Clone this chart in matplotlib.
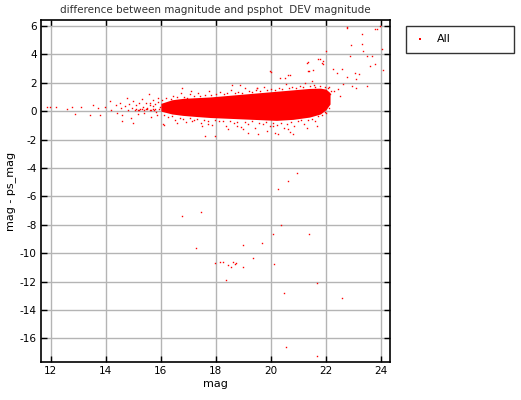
import numpy as np
import matplotlib
matplotlib.use("Agg")
import matplotlib.pyplot as plt

# dense core of the cloud: envelope
core_mag = [16.0, 16.4, 16.8, 17.3, 17.8, 18.4, 19.0, 19.6, 20.2, 20.8, 21.4, 21.8, 22.0, 22.15]
core_hi = [0.55, 0.8, 0.9, 0.95, 1.0, 1.1, 1.2, 1.3, 1.4, 1.5, 1.6, 1.62, 1.55, 1.3]
core_lo = [0.0, -0.2, -0.3, -0.38, -0.45, -0.5, -0.55, -0.6, -0.65, -0.58, -0.42, -0.2, 0.1, 0.5]

# bright faint tail on the left
tail_mag = [11.87, 11.96, 12.2, 12.57, 12.75, 12.87, 13.1, 13.42, 13.54, 13.72, 13.78, 13.96,
            14.15, 14.2, 14.35, 14.4, 14.5, 14.55, 14.6, 14.7, 14.75, 14.8, 14.85, 14.9, 14.95,
            15.0, 15.05, 15.1, 15.15, 15.2, 15.25, 15.3, 15.35, 15.4, 15.45, 15.5, 15.55, 15.6,
            15.65, 15.7, 15.75, 15.8, 15.85, 15.9, 15.95, 14.99, 14.6,
            15.1, 15.2, 15.3, 15.4, 15.5, 15.6, 15.7, 15.8, 15.15, 15.45, 15.65,
            15.72, 15.88, 15.93, 15.62, 15.82]
tail_diff = [0.3, 0.3, 0.3, 0.12, 0.3, -0.23, 0.3, -0.3, 0.4, 0.23, -0.3, 0.3,
             0.7, 0.1, 0.45, -0.15, 0.6, 0.2, -0.3, 0.35, 0.9, 0.05, 0.5, -0.5, 0.25,
             0.7, 0.1, 0.4, -0.2, 0.55, 0.15, 0.85, 0.3, -0.1, 0.6, 0.2, 1.2, 0.4,
             -0.4, 0.75, 0.1, 0.5, -0.25, 0.95, 0.3, -0.82, -0.7,
             0.12, 0.1, 0.13, 0.11, 0.12, 0.1, 0.13, 0.12, 0.11, 0.13, 0.1,
             0.35, 0.62, 0.18, 0.55, -0.08]

# ragged edge just above the core
upper_mag = [16.05, 16.2, 16.35, 16.45, 16.6, 16.72, 16.85, 16.95, 17.05, 17.22, 17.35, 17.42,
             17.6, 17.75, 17.83, 18.02, 18.15, 18.28, 18.42, 18.55, 18.68, 18.8, 18.95, 19.05,
             19.2, 19.33, 19.45, 19.62, 19.75, 19.85, 20.0, 20.15, 20.28, 20.4, 20.55, 20.65,
             20.78, 20.92, 21.05, 21.18, 21.25, 21.42, 21.55, 21.62, 21.8, 21.95, 22.08, 22.2]
upper_diff = [0.75, 0.95, 0.85, 1.1, 0.98, 1.25, 1.02, 0.95, 1.18, 1.05, 1.3, 1.08,
              1.15, 1.42, 1.12, 1.22, 1.35, 1.18, 1.28, 1.5, 1.3, 1.38, 1.27, 1.62,
              1.4, 1.35, 1.48, 1.42, 1.7, 1.5, 1.55, 1.48, 1.62, 1.58, 1.88, 1.62,
              1.7, 1.65, 1.78, 1.72, 1.95, 1.75, 1.82, 1.7, 1.78, 1.72, 1.6, 1.45]

# ragged edge just below the core
lower_mag = [16.1, 16.25, 16.4, 16.52, 16.68, 16.8, 16.93, 17.05, 17.2, 17.33, 17.45, 17.58,
             17.7, 17.85, 17.98, 18.12, 18.25, 18.38, 18.52, 18.65, 18.78, 18.9, 19.05, 19.18,
             19.3, 19.42, 19.58, 19.7, 19.82, 19.95, 20.08, 20.22, 20.35, 20.48, 20.6, 20.72,
             20.85, 20.98, 21.1, 21.22, 21.35, 21.48, 21.6, 21.72, 21.85, 21.98, 22.1]
lower_diff = [-0.25, -0.42, -0.35, -0.6, -0.45, -0.52, -0.75, -0.5, -0.62, -0.55, -0.85, -0.6,
              -0.68, -0.95, -0.62, -0.72, -0.66, -1.05, -0.7, -0.8, -0.75, -1.15, -0.78, -0.88,
              -0.72, -1.2, -0.82, -0.92, -0.78, -1.08, -0.85, -0.95, -0.8, -1.22, -0.88, -0.78,
              -1.05, -0.72, -0.65, -0.9, -0.6, -0.52, -0.7, -0.35, -0.3, -0.05, 0.25]

# sparse points further from the core
sparse_mag = [16.75, 17.1, 18.57, 18.87, 19.48, 16.08, 16.6, 17.12, 17.48, 17.7, 17.96, 18.45,
              18.75, 18.99, 19.17, 19.54, 19.84, 20.08, 20.27, 20.63, 20.81, 21.3, 21.66,
              22.02, 17.6, 16.1, 20.15, 20.7]
sparse_diff = [1.6, 1.4, 1.81, 1.81, 1.64, -0.94, -0.8, -0.7, -1.06, -0.94, -1.76, -1.29,
               -1.06, -1.29, -1.53, -1.64, -1.41, -1.06, -1.64, -1.29, -1.64, -1.17, -1.06,
               -0.12, -1.76, -0.99, -1.53, -1.5]

# the faint plume rising on the right
plume_mag = [19.96, 20.33, 20.63, 21.3, 21.35, 21.5, 21.78, 21.9, 22.75, 23.3, 23.84, 23.96,
             22.93, 23.3, 23.36, 24.03, 23.66, 23.5, 22.87, 22.02, 21.9, 21.36, 21.54, 22.27,
             22.4, 22.6, 22.75, 23.05, 23.2, 23.1, 23.6, 23.8, 23.48, 22.63, 22.45, 22.3,
             22.15, 22.5, 22.1, 22.95, 23.1, 22.78, 23.78, 24.08, 21.72, 21.85, 21.4, 20.69,
             20.02, 20.5, 19.48]
plume_diff = [2.82, 2.35, 2.58, 3.4, 2.8, 2.1, 3.64, 3.3, 5.89, 5.42, 5.82, 6.0,
              4.65, 4.7, 4.25, 4.37, 3.9, 3.9, 3.9, 4.25, 3.54, 3.43, 2.89, 2.96,
              2.7, 2.96, 2.37, 2.72, 2.62, 2.25, 3.19, 3.3, 1.78, 1.9, 1.55, 1.45,
              1.2, 1.1, 1.7, 1.8, 1.6, 5.92, 5.82, 2.93, 3.64, 3.4, 2.8, 2.58,
              2.77, 2.3, 1.64]

# far outliers below
low_mag = [16.75, 17.45, 17.26, 19.0, 19.36, 17.96, 18.14, 18.26, 18.45, 18.62, 18.68, 18.74,
           19.0, 18.56, 18.35, 20.35, 20.06, 19.66, 21.39, 20.12, 21.68, 20.48, 22.59, 20.55,
           21.68, 20.96, 20.63, 20.27]
low_diff = [-7.39, -7.09, -9.67, -9.44, -10.33, -10.73, -10.63, -10.63, -10.85, -10.63, -10.75,
            -10.7, -10.99, -10.99, -11.9, -8.05, -8.62, -9.27, -8.62, -10.75, -12.11, -12.8,
            -13.15, -16.64, -17.25, -4.39, -4.95, -5.45]

plt.rcParams['axes.unicode_minus'] = False
plt.rcParams['font.family'] = 'DejaVu Sans'

fig = plt.figure(figsize=(5.21, 4.0), dpi=100)
ax = fig.add_axes([41 / 521, 38 / 400, 349 / 521, 342 / 400])

red = '#ff0000'
ax.fill_between(core_mag, core_lo, core_hi, color=red, lw=0, zorder=2)
mags = tail_mag + upper_mag + lower_mag + sparse_mag + plume_mag + low_mag
diffs = tail_diff + upper_diff + lower_diff + sparse_diff + plume_diff + low_diff
ax.plot(mags, diffs, 's', color=red, ms=1.0, mew=0, ls='none', zorder=3, label='All')

ax.set_xlim(11.64, 24.33)
ax.set_ylim(-17.67, 6.42)
ax.set_xticks(np.arange(12, 25, 2))
ax.set_yticks(np.arange(-16, 7, 2))
ax.grid(True, color='#b4b4b4', lw=1)
ax.set_axisbelow(True)
ax.tick_params(direction='in', length=4, width=1, top=True, right=True,
               labelsize=7.5, pad=3)
for s in ax.spines.values():
    s.set_linewidth(1.2)

ax.set_xlabel('mag', fontsize=8, labelpad=2)
ax.set_ylabel('mag - ps_mag', fontsize=8, labelpad=3)
ax.set_title('difference between magnitude and psphot  DEV magnitude',
             fontsize=7.5, color='#333333', pad=5)

leg = fig.legend(loc='upper left', bbox_to_anchor=(400 / 521, 351 / 400, 120 / 521, 29 / 400),
                 mode='expand', fontsize=8, frameon=True, fancybox=False,
                 markerscale=2, handlelength=1.0, handletextpad=1.0, borderpad=0.8)
leg.get_frame().set_edgecolor('black')
leg.get_frame().set_linewidth(1)

fig.savefig('out.png', dpi=100)
